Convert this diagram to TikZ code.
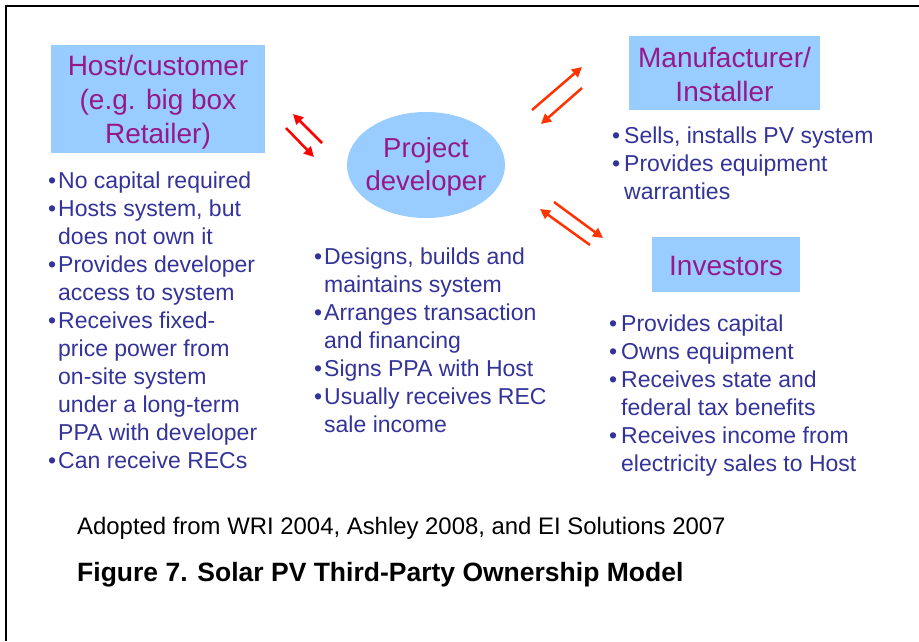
\documentclass[tikz,border=0pt]{standalone}
\usepackage{fontspec}
\setmainfont{Liberation Sans}
\usetikzlibrary{arrows.meta,shapes.geometric}
\definecolor{boxblue}{RGB}{153,204,255}
\definecolor{headpurple}{RGB}{150,25,140}
\definecolor{bulletblue}{RGB}{51,51,153}
\definecolor{arrowred}{RGB}{255,0,0}
\definecolor{arroworange}{RGB}{255,51,0}
\newcommand{\mybul}[1]{\makebox[#1][l]{\textbullet}}
\begin{document}
\begin{tikzpicture}[x=1pt,y=-1pt,
  hdrbox/.style={fill=boxblue, inner sep=0pt},
  hdrtxt/.style={text=headpurple, font=\fontsize{28}{33.8}\selectfont, align=center, inner sep=0pt},
  lst/.style={text=bulletblue, font=\fontsize{23}{28}\selectfont, align=left, inner sep=0pt, anchor=base west},
  rarrow/.style={line width=2.5pt, -{Triangle[length=10pt,width=10pt]}},
  capt/.style={anchor=base west, inner sep=0pt, text=black}]
\useasboundingbox (0,0) rectangle (919,641);
\fill[white] (0,0) rectangle (919,641);
% frame
\draw[line width=2pt] (6,641) -- (6,6) -- (919,6);
% header boxes
\node[hdrbox, minimum width=214pt, minimum height=108pt] (host) at (158,99) {};
\node[hdrbox, minimum width=191pt, minimum height=74pt] (mfr) at (724.5,73) {};
\node[hdrbox, minimum width=148pt, minimum height=55pt] (inv) at (726,264.5) {};
\node[hdrbox, ellipse, minimum width=158pt, minimum height=106pt] (dev) at (426,165) {};
% header texts
\node[hdrtxt] (hosttxt) at (158,102.5) {Host/customer\\(e.g. big box\\Retailer)};
\node[hdrtxt] (mfrtxt) at (724.5,74.5) {Manufacturer/\\Installer};
\node[hdrtxt] (invtxt) at (726,265.5) {Investors};
\node[hdrtxt, font=\fontsize{27.5}{33}\selectfont] (devtxt) at (426,167) {Project\\developer};
% arrows
\coordinate (h1a) at (322,143); \coordinate (h1b) at (293,114);
\coordinate (h2a) at (286,128); \coordinate (h2b) at (314,157);
\coordinate (m1a) at (532,110); \coordinate (m1b) at (582,67);
\coordinate (m2a) at (582,88);  \coordinate (m2b) at (541,124);
\coordinate (i1a) at (554,202); \coordinate (i1b) at (603,238);
\coordinate (i2a) at (590,245); \coordinate (i2b) at (540,209);
\draw[rarrow, arrowred] (h1a) -- (h1b);
\draw[rarrow, arrowred] (h2a) -- (h2b);
\draw[rarrow, arroworange] (m1a) -- (m1b);
\draw[rarrow, arroworange] (m2a) -- (m2b);
\draw[rarrow, arroworange] (i1a) -- (i1b);
\draw[rarrow, arroworange] (i2a) -- (i2b);
% lists (base anchor = baseline of the last line)
\node[lst] (hostlist) at (48,468) {\mybul{10pt}No capital required\\
\mybul{10pt}Hosts system, but\\
\hspace*{10pt}does not own it\\
\mybul{10pt}Provides developer\\
\hspace*{10pt}access to system\\
\mybul{10pt}Receives fixed-\\
\hspace*{10pt}price power from\\
\hspace*{10pt}on-site system\\
\hspace*{10pt}under a long-term\\
\hspace*{10pt}PPA with developer\\
\mybul{10pt}Can receive RECs};
\node[lst] (devlist) at (314,432) {\mybul{10pt}Designs, builds and\\
\hspace*{10pt}maintains system\\
\mybul{10pt}Arranges transaction\\
\hspace*{10pt}and financing\\
\mybul{10pt}Signs PPA with Host\\
\mybul{10pt}Usually receives REC\\
\hspace*{10pt}sale income};
\node[lst] (mfrlist) at (612,199) {\mybul{12pt}Sells, installs PV system\\
\mybul{12pt}Provides equipment\\
\hspace*{12pt}warranties};
\node[lst] (invlist) at (609,471) {\mybul{12pt}Provides capital\\
\mybul{12pt}Owns equipment\\
\mybul{12pt}Receives state and\\
\hspace*{12pt}federal tax benefits\\
\mybul{12pt}Receives income from\\
\hspace*{12pt}electricity sales to Host};
% captions
\node[capt, font=\fontsize{23.9}{28}\selectfont] (src) at (77,534) {Adopted from WRI 2004, Ashley 2008, and EI Solutions 2007};
\node[capt, font=\bfseries\fontsize{26.5}{30}\selectfont] (cap) at (77,581) {Figure 7. Solar PV Third-Party Ownership Model};
\end{tikzpicture}
\end{document}
